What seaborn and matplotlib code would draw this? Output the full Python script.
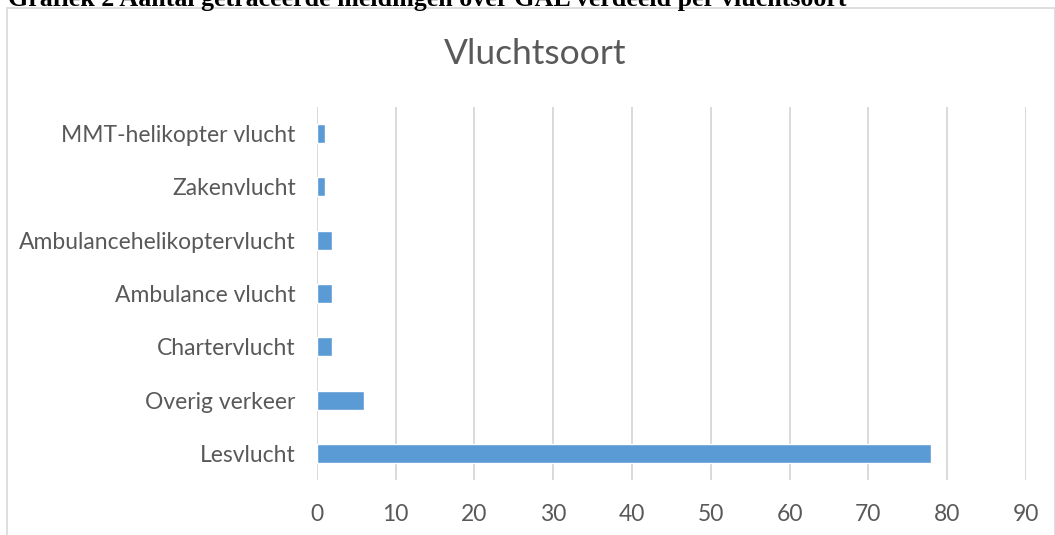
import matplotlib
matplotlib.use("Agg")
import matplotlib.pyplot as plt
import seaborn as sns
import pandas as pd
from matplotlib.patches import Rectangle

categories = ["MMT-helikopter vlucht", "Zakenvlucht", "Ambulancehelikoptervlucht",
              "Ambulance vlucht", "Chartervlucht", "Overig verkeer", "Lesvlucht"]
values = [1, 1, 2, 2, 2, 6, 78]
x_ticks = [0, 10, 20, 30, 40, 50, 60, 70, 80, 90]
title = "Vluchtsoort"
caption = "Grafiek 2 Aantal getraceerde meldingen over GAL verdeeld per vluchtsoort"

sns.set_theme(style="white")
plt.rcParams['font.family'] = ['Lato', 'DejaVu Sans']

df = pd.DataFrame({"cat": categories, "val": values})

W, H = 1055, 535
fig = plt.figure(figsize=(W / 100, H / 100), dpi=100)
ax = fig.add_axes([316.7 / W, (H - 480) / H, (1026 - 316.7) / W, (480 - 107) / H])

sns.barplot(data=df, x="val", y="cat", order=categories, orient="h",
            color="#5b9bd5", saturation=1, width=0.355, ax=ax, zorder=3)

ax.set_xlim(0, 90)
ax.set_ylim(len(categories) - 0.5, -0.5)
ax.set_xticks(x_ticks)
ax.set_xticklabels([str(t) for t in x_ticks])
ax.grid(axis="x", color="#d9d9d9", linewidth=1.4, zorder=0)
ax.grid(axis="y", visible=False)
for s in ax.spines.values():
    s.set_visible(False)
ax.set_xlabel("")
ax.set_ylabel("")
ax.tick_params(axis="both", length=0, labelsize=16.5, colors="#595959")
ax.tick_params(axis="x", pad=17)
ax.tick_params(axis="y", pad=15)

fig.text(535 / W, 1 - 64 / H, title, ha="center", va="baseline",
         fontsize=25.5, color="#595959", fontweight="normal")

fig.text(8 / W, 1 - 6 / H, caption, ha="left", va="baseline",
         fontsize=18.7, fontweight="bold", family=["Liberation Serif", "DejaVu Serif"],
         color="black")

fig.patches.append(Rectangle((6.5 / W, -0.1), (1054.5 - 6.5) / W, 1.1 - 8.5 / H,
                             transform=fig.transFigure, fill=False,
                             edgecolor="#d9d9d9", linewidth=1.2))

fig.savefig("out.png", dpi=100)
